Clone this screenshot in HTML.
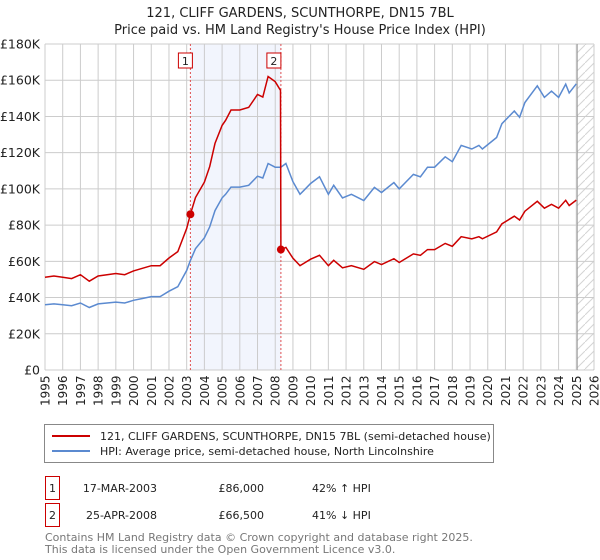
<!DOCTYPE html>
<html><head><meta charset="utf-8"><style>
body{margin:0;background:#fff;font-family:"DejaVu Sans","Liberation Sans",sans-serif;}
#wrap{position:relative;width:600px;height:560px;overflow:hidden}
svg text{font-family:"DejaVu Sans","Liberation Sans",sans-serif;}
</style></head><body><div id="wrap">
<svg id="chart" width="600" height="560"></svg>
</div>
<script>
const yearTicks=[1995,1996,1997,1998,1999,2000,2001,2002,2003,2004,2005,2006,2007,2008,2009,2010,2011,2012,2013,2014,2015,2016,2017,2018,2019,2020,2021,2022,2023,2024,2025,2026];
const valueTicks=[0,20000,40000,60000,80000,100000,120000,140000,160000,180000];
const valueTickLabels=["£0","£20K","£40K","£60K","£80K","£100K","£120K","£140K","£160K","£180K"];
const hpiDates=[1995.0,1995.5,1996.0,1996.5,1997.0,1997.5,1998.0,1998.5,1999.0,1999.5,2000.0,2000.5,2001.0,2001.5,2002.0,2002.5,2003.0,2003.21,2003.5,2004.0,2004.3,2004.6,2005.0,2005.2,2005.5,2006.0,2006.5,2007.0,2007.3,2007.6,2008.0,2008.32,2008.6,2009.0,2009.4,2009.6,2010.0,2010.5,2011.0,2011.3,2011.8,2012.3,2013.0,2013.6,2014.0,2014.7,2015.0,2015.8,2016.2,2016.6,2017.0,2017.6,2018.0,2018.5,2019.1,2019.5,2019.7,2020.5,2020.8,2021.5,2021.8,2022.1,2022.8,2023.2,2023.6,2024.0,2024.4,2024.6,2025.0];
const hpiValues=[36000,36500,36000,35500,37000,34500,36500,37000,37500,37000,38500,39500,40500,40500,43500,46000,55000,60500,67000,73000,79000,88000,95000,97000,101000,101000,102000,107000,106000,114000,112000,112000,114000,104000,97000,99000,103000,106700,97000,102000,95000,97000,93600,100800,98000,103500,100000,108000,106700,112000,112000,117700,115000,124000,122000,124000,122000,128400,136000,143000,139500,147700,156900,150500,154000,150500,157800,153000,158000];
const saleDates=[2003.21,2008.32];
const salePrices=[86000,66500];
const saleLabels=["1","2"];
const saleDateText=["17-MAR-2003","25-APR-2008"];
const salePriceText=["£86,000","£66,500"];
const saleHpiText=["42% ↑ HPI","41% ↓ HPI"];

const NS="http://www.w3.org/2000/svg";
const svg=document.getElementById('chart');
const X0=45,X1=594,Y0=370,Y1=44;
const xs=y=>X0+(y-1995)/(2026-1995)*(X1-X0);
const ys=v=>Y0-v/180000*(Y0-Y1);
function mk(tag,attrs,parent){const e=document.createElementNS(NS,tag);for(const k in attrs)e.setAttribute(k,attrs[k]);(parent||svg).appendChild(e);return e;}

const defs=mk('defs',{});
const pat=mk('pattern',{id:'hatch',width:9,height:9,patternUnits:'userSpaceOnUse'},defs);
mk('path',{d:'M0,9 L9,0',stroke:'#d4d4d4','stroke-width':1},pat);

let t=mk('text',{x:300,y:17,'text-anchor':'middle','font-size':13,fill:'#222'});t.textContent="121, CLIFF GARDENS, SCUNTHORPE, DN15 7BL";


t=mk('text',{x:300,y:34,'text-anchor':'middle','font-size':13,fill:'#222'});t.textContent="Price paid vs. HM Land Registry's House Price Index (HPI)";



let r=mk('rect',{x:xs(saleDates[0]),y:Y1,width:xs(saleDates[1])-xs(saleDates[0]),height:Y0-Y1,fill:'#f2f5fd'});


r=mk('rect',{x:xs(2025.05),y:Y1,width:X1-xs(2025.05),height:Y0-Y1,fill:'url(#hatch)'});



yearTicks.forEach(yr=>{const g=mk('line',{x1:xs(yr),x2:xs(yr),y1:Y1,y2:Y0,stroke:'#ccc','stroke-width':1});


const l=mk('text',{transform:`translate(${xs(yr)+4.5},${Y0+36}) rotate(-90)`,'font-size':12,fill:'#222'});l.textContent=yr;

});
valueTicks.forEach((v,i)=>{const g=mk('line',{x1:X0,x2:X1,y1:ys(v),y2:ys(v),stroke:'#ccc','stroke-width':1});


const l=mk('text',{x:X0-5,y:ys(v)+4.5,'text-anchor':'end','font-size':12.5,fill:'#222'});l.textContent=valueTickLabels[i];

});
let vl=mk('line',{x1:xs(2025.05),x2:xs(2025.05),y1:Y1,y2:Y0,stroke:'#999','stroke-width':1});



saleDates.forEach((d,i)=>{const l=mk('line',{x1:xs(d),x2:xs(d),y1:Y1,y2:Y0,stroke:'#e05050','stroke-width':1,'stroke-dasharray':'2,2'});


const bx=xs(d)-9-(i==0?3:5);
const b=mk('rect',{x:bx,y:53,width:14,height:15,fill:'#fff',stroke:'#cc0000','stroke-width':1});


const tt=mk('text',{x:bx+7,y:65,'text-anchor':'middle','font-size':11,fill:'#222'});tt.textContent=saleLabels[i];

});

function hpiAt(d){for(let i=0;i<hpiDates.length-1;i++){if(d>=hpiDates[i]&&d<=hpiDates[i+1]){const f=(d-hpiDates[i])/(hpiDates[i+1]-hpiDates[i]);return hpiValues[i]+f*(hpiValues[i+1]-hpiValues[i]);}}return hpiValues[hpiValues.length-1];}
let p=mk('path',{d:hpiDates.map((d,i)=>(i?'L':'M')+xs(d).toFixed(1)+','+ys(hpiValues[i]).toFixed(1)).join(''),fill:'none',stroke:'#5b8ad0','stroke-width':1.5});



const f1=salePrices[0]/hpiAt(saleDates[0]), f2=salePrices[1]/hpiAt(saleDates[1]);
let pts=[];
hpiDates.forEach((d,i)=>{if(d<saleDates[1])pts.push([d,hpiValues[i]*f1]);});
pts.push([saleDates[1]-0.02,hpiAt(saleDates[1])*f1*0.97]);
pts.push([saleDates[1],salePrices[1]]);
hpiDates.forEach((d,i)=>{if(d>saleDates[1])pts.push([d,hpiValues[i]*f2]);});
p=mk('path',{d:pts.map((q,i)=>(i?'L':'M')+xs(q[0]).toFixed(1)+','+ys(q[1]).toFixed(1)).join(''),fill:'none',stroke:'#cc0000','stroke-width':1.5});


saleDates.forEach((d,i)=>{const c=mk('circle',{cx:xs(d),cy:ys(salePrices[i]),r:4,fill:'#cc0000'});

});

const lg=mk('g',{});


mk('rect',{x:44.5,y:424.5,width:449,height:38,fill:'#fff',stroke:'#888','stroke-width':1},lg);
mk('line',{x1:52,x2:90,y1:436,y2:436,stroke:'#cc0000','stroke-width':2},lg);
mk('line',{x1:52,x2:90,y1:451,y2:451,stroke:'#5b8ad0','stroke-width':2},lg);
t=mk('text',{x:100,y:440,'font-size':11,fill:'#222'},lg);t.textContent="121, CLIFF GARDENS, SCUNTHORPE, DN15 7BL (semi-detached house)";


t=mk('text',{x:100,y:455,'font-size':11,fill:'#222'},lg);t.textContent="HPI: Average price, semi-detached house, North Lincolnshire";



saleLabels.forEach((lab,i)=>{const y=i?515:488;
const b=mk('rect',{x:45.5,y:y-11.5,width:14,height:23,fill:'#fff',stroke:'#cc0000','stroke-width':1});


let tx=mk('text',{x:52.5,y:y+4,'text-anchor':'middle','font-size':11,fill:'#222'});tx.textContent=lab;


tx=mk('text',{x:157,y:y+4,'text-anchor':'end','font-size':11,fill:'#222'});tx.textContent=saleDateText[i];


tx=mk('text',{x:264,y:y+4,'text-anchor':'end','font-size':11,fill:'#222'});tx.textContent=salePriceText[i];


tx=mk('text',{x:312,y:y+4,'font-size':11,fill:'#222'});tx.textContent=saleHpiText[i];

});

t=mk('text',{x:45,y:541,'font-size':11,fill:'#777'});t.textContent="Contains HM Land Registry data © Crown copyright and database right 2025.";


t=mk('text',{x:45,y:553,'font-size':11,fill:'#777'});t.textContent="This data is licensed under the Open Government Licence v3.0.";


</script></body></html>
